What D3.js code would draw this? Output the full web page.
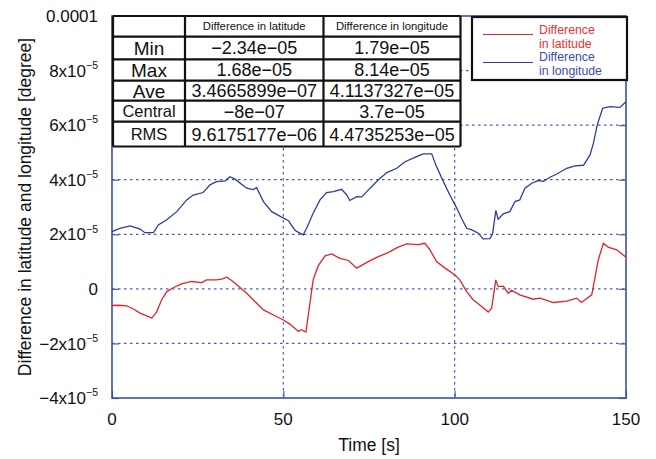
<!DOCTYPE html>
<html>
<head>
<meta charset="utf-8">
<script src="https://cdn.jsdelivr.net/npm/d3@7"></script>
<style>
  html, body { margin: 0; padding: 0; background: #fff; }
  svg { display: block; font-family: "Liberation Sans", Arial, Helvetica, sans-serif; }
</style>
</head>
<body>
<svg id="chart" width="656" height="459"></svg>
<script>
// ---- Data (values in units of 1e-5 degree) ----
const UNIT = 1e-5;
const timeLat = [0,2,4.3,6,8.2,10,11.6,13,14.5,16,18,20.3,23.2,26.2,27.6,30.5,32,33.5,35,36.4,39.3,42,44.2,47,50,52,54.4,55.3,56.6,58.7,60.2,62.2,64.1,66.5,69,71.4,74.8,77.7,80.6,83.5,86,89.4,91.3,92.8,94.7,97.2,100.1,101.5,103.5,105.4,107.9,109.8,110.8,112,112.7,114.2,115.6,116.6,119,122.9,124.9,128.8,132.7,135.6,137,140,141,141.9,143.4,144.8,147.3,150];
const latE5 = [-0.61,-0.60,-0.62,-0.72,-0.89,-0.98,-1.07,-0.85,-0.40,-0.10,0.05,0.18,0.27,0.23,0.33,0.33,0.36,0.43,0.30,0.15,-0.16,-0.50,-0.77,-0.95,-1.14,-1.30,-1.56,-1.50,-1.58,0.33,0.85,1.21,1.28,1.12,1.04,0.76,1.00,1.18,1.33,1.53,1.65,1.62,1.67,1.43,1.00,0.76,0.51,0.33,-0.10,-0.40,-0.65,-0.85,-0.70,0.33,0.08,0.10,-0.16,-0.05,-0.22,-0.38,-0.34,-0.50,-0.45,-0.34,-0.50,-0.22,0.45,1.06,1.67,1.53,1.43,1.16];
const timeLon = [0,2.3,5.3,8.2,9.6,12.1,13.5,16,18.9,21.8,23.7,26.6,28.6,30.5,33,34.4,35.9,39.3,41.2,42.2,44.2,46.6,49.5,51.5,53.4,54.4,55.8,56.8,58.7,60.7,62.6,64.6,67,68.5,69.4,71.4,72.9,75.3,77.7,80.2,83.1,85.5,88.4,90.8,93.3,94.7,96.7,98.6,100.6,102,103.5,105,106.9,108.3,110.3,111.1,112,112.7,114.2,116.1,117.6,119,120.5,122.5,124.4,125.9,127.8,129.8,132.7,135.1,137.6,139.5,140.5,141.6,143.2,145.3,148.2,150];
const lonE5 = [2.10,2.22,2.31,2.19,2.06,2.06,2.34,2.53,2.83,3.26,3.44,3.53,3.81,3.93,3.96,4.11,4.02,3.69,3.64,3.71,3.20,2.83,2.63,2.50,2.15,2.07,1.98,2.22,2.77,3.26,3.53,3.56,3.65,3.44,3.24,3.38,3.37,3.69,3.99,4.26,4.42,4.66,4.82,4.95,4.95,4.48,3.93,3.44,2.96,2.59,2.22,2.16,2.04,1.83,1.84,2.04,2.87,2.55,2.75,2.83,3.20,3.26,3.69,3.87,3.97,3.94,4.09,4.21,4.42,4.51,4.53,4.91,5.34,6.01,6.62,6.68,6.65,6.86];

const xTicks = [0, 50, 100, 150];
const yTicks = [-4e-5, -2e-5, 0, 2e-5, 4e-5, 6e-5, 8e-5, 1e-4];
const yTickMantissa = ["−4", "−2", "0", "2", "4", "6", "8", "0.0001"];

const tableHeaders = ["", "Difference in latitude", "Difference in longitude"];
const statNames = ["Min", "Max", "Ave", "Central", "RMS"];
const statLat = ["−2.34e−05", "1.68e−05", "3.4665899e−07", "−8e−07", "9.6175177e−06"];
const statLon = ["1.79e−05", "8.14e−05", "4.1137327e−05", "3.7e−05", "4.4735253e−05"];

const seriesNames = [["Difference", "in latitude"], ["Difference", "in longitude"]];
const seriesColors = ["#e3222b", "#2b3f98"];

// ---- Layout ----
const svg = d3.select("#chart");
const L = 112, R = 626, T = 16, B = 398;
const x = d3.scaleLinear().domain([0, 150]).range([L, R]);
const y = d3.scaleLinear().domain([-4e-5, 1e-4]).range([B, T]);
const gridColor = "#4a5db0";

svg.append("rect").attr("width", 656).attr("height", 459).attr("fill", "#fff");

// grid
const g = svg.append("g");
g.selectAll("line.hg").data(yTicks.slice(1, -1)).join("line")
  .attr("x1", L).attr("x2", R).attr("y1", d => y(d)).attr("y2", d => y(d))
  .attr("stroke", gridColor).attr("stroke-width", 1.2).attr("stroke-dasharray", "2.5,3.5");
g.selectAll("line.vg").data(xTicks.slice(1, -1)).join("line")
  .attr("y1", T).attr("y2", B).attr("x1", d => x(d)).attr("x2", d => x(d))
  .attr("stroke", gridColor).attr("stroke-width", 1.2).attr("stroke-dasharray", "2.5,3.5");

// axes with inside ticks
const axL = d3.axisRight(y).tickValues(yTicks).tickSize(7).tickFormat("");
const axR = d3.axisLeft(y).tickValues(yTicks).tickSize(7).tickFormat("");
const axB = d3.axisTop(x).tickValues(xTicks).tickSize(7).tickFormat("");
const axT = d3.axisBottom(x).tickValues(xTicks).tickSize(7).tickFormat("");
[[axL, `translate(${L},0)`], [axR, `translate(${R},0)`], [axB, `translate(0,${B})`], [axT, `translate(0,${T})`]]
  .forEach(([ax, tr]) => {
    const a = svg.append("g").attr("transform", tr).call(ax);
    a.select(".domain").remove();
    a.selectAll("line").attr("stroke", gridColor).attr("stroke-width", 1.2);
  });

// frame
svg.append("rect").attr("x", L).attr("y", T).attr("width", R - L).attr("height", B - T)
  .attr("fill", "none").attr("stroke", "#3a4fa6").attr("stroke-width", 1.6);

// curves
const line = d3.line().x(d => x(d[0])).y(d => y(d[1] * UNIT));
svg.append("path").datum(timeLat.map((t, i) => [t, latE5[i]]))
  .attr("d", line).attr("fill", "none").attr("stroke", seriesColors[0]).attr("stroke-width", 1.3);
svg.append("path").datum(timeLon.map((t, i) => [t, lonE5[i]]))
  .attr("d", line).attr("fill", "none").attr("stroke", seriesColors[1]).attr("stroke-width", 1.3);

// y tick labels
const yl = svg.append("g").attr("font-size", 17).attr("fill", "#111");
yTicks.forEach((v, i) => {
  const txt = yl.append("text").attr("x", 98).attr("y", y(v)).attr("dy", "0.36em").attr("text-anchor", "end");
  if (v === 0 || v === 1e-4) {
    txt.text(yTickMantissa[i]);
  } else {
    txt.append("tspan").text(yTickMantissa[i] + "x10");
    txt.append("tspan").attr("font-size", 10.5).attr("dy", "-0.75em").text("−5");
  }
});

// x tick labels
svg.append("g").selectAll("text").data(xTicks).join("text")
  .attr("x", d => x(d)).attr("y", 425).attr("text-anchor", "middle")
  .attr("font-size", 17).attr("fill", "#111").text(d => d);

// axis titles
svg.append("text").attr("x", 369).attr("y", 451).attr("text-anchor", "middle")
  .attr("font-size", 17.5).attr("fill", "#111").text("Time [s]");
svg.append("text").attr("transform", "translate(31,207) rotate(-90)").attr("text-anchor", "middle")
  .attr("font-size", 17.5).attr("fill", "#111").text("Difference in latitude and longitude [degree]");

// ---- stats table ----
const colX = [113, 185, 323.5, 460.5];
const rowY = [16, 36.7, 59.3, 80.7, 100.7, 121.7, 146.5];
const tb = svg.append("g");
tb.append("rect").attr("x", colX[0]).attr("y", rowY[0]).attr("width", colX[3] - colX[0]).attr("height", rowY[6] - rowY[0])
  .attr("fill", "#fff");
const rowsData = [tableHeaders].concat(statNames.map((n, i) => [n, statLat[i], statLon[i]]));
rowsData.forEach((row, r) => {
  row.forEach((cell, c) => {
    const cx = (colX[c] + colX[c + 1]) / 2;
    const cy = (rowY[r] + rowY[r + 1]) / 2;
    let fs = 18;
    if (r === 0) fs = 11.3;
    else if (c === 0) fs = (cell === "Central" || cell === "RMS") ? 16.5 : 19;
    tb.append("text").attr("x", cx).attr("y", cy).attr("dy", "0.36em").attr("text-anchor", "middle")
      .attr("font-size", fs).attr("fill", "#111").text(cell);
  });
});
rowY.forEach(yy => tb.append("line").attr("x1", colX[0]).attr("x2", colX[3]).attr("y1", yy).attr("y2", yy)
  .attr("stroke", "#111").attr("stroke-width", 2.2));
colX.forEach(xx => tb.append("line").attr("x1", xx).attr("x2", xx).attr("y1", rowY[0]).attr("y2", rowY[6])
  .attr("stroke", "#111").attr("stroke-width", 2.2));

// ---- legend ----
const lg = svg.append("g");
lg.append("rect").attr("x", 472).attr("y", 17).attr("width", 155).attr("height", 63)
  .attr("fill", "#fff").attr("stroke", "#111").attr("stroke-width", 2.2);
const legLineY = [34.5, 62.5];
const legTextY = [34.3, 61];
seriesNames.forEach((lines, i) => {
  lg.append("line").attr("x1", 483).attr("x2", 533).attr("y1", legLineY[i]).attr("y2", legLineY[i])
    .attr("stroke", seriesColors[i]).attr("stroke-width", 1.2);
  lines.forEach((s, j) => {
    lg.append("text").attr("x", 539).attr("y", legTextY[i] + j * 13.8).attr("font-size", 12.3)
      .attr("fill", i === 0 ? "#e8303a" : "#3a4fa6").text(s);
  });
});
</script>
</body>
</html>
